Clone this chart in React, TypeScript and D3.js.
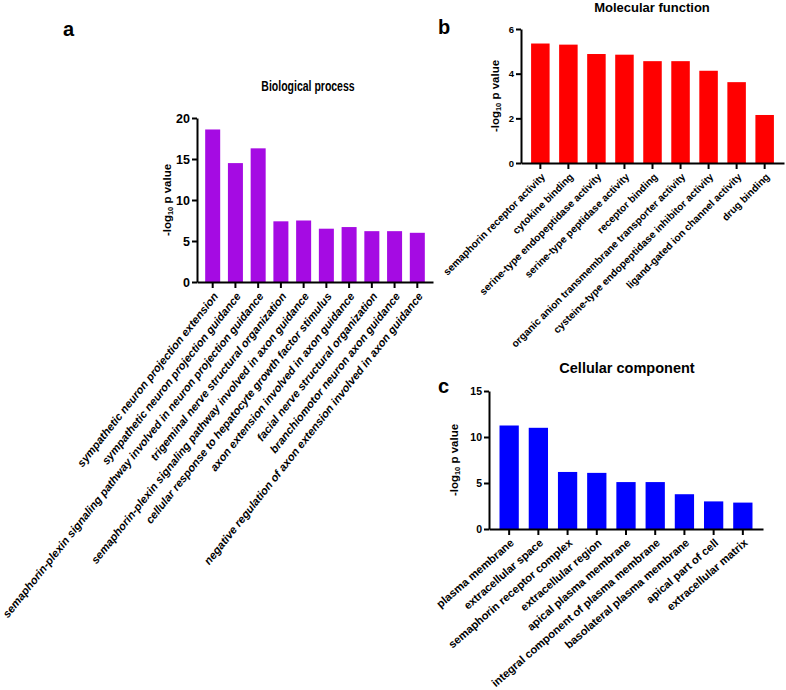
import { useEffect, useRef } from 'react';
import * as d3 from 'd3';

// GO enrichment, -log10 p values
const bpTerms = [
  'sympathetic neuron projection extension',
  'sympathetic neuron projection guidance',
  'semaphorin-plexin signaling pathway involved in neuron projection guidance',
  'trigeminal nerve structural organization',
  'semaphorin-plexin signaling pathway involved in axon guidance',
  'cellular response to hepatocyte growth factor stimulus',
  'axon extension involved in axon guidance',
  'facial nerve structural organization',
  'branchiomotor neuron axon guidance',
  'negative regulation of axon extension involved in axon guidance',
];
const bpValues = [18.6, 14.5, 16.3, 7.4, 7.5, 6.5, 6.7, 6.2, 6.2, 6.0];
const bpTicks = [0, 5, 10, 15, 20];

const mfTerms = [
  'semaphorin receptor activity',
  'cytokine binding',
  'serine-type endopeptidase activity',
  'serine-type peptidase activity',
  'receptor binding',
  'organic anion transmembrane transporter activity',
  'cysteine-type endopeptidase inhibitor activity',
  'ligand-gated ion channel activity',
  'drug binding',
];
const mfValues = [5.35, 5.3, 4.88, 4.85, 4.56, 4.56, 4.13, 3.62, 2.15];
const mfTicks = [0, 2, 4, 6];

const ccTerms = [
  'plasma membrane',
  'extracellular space',
  'semaphorin receptor complex',
  'extracellular region',
  'apical plasma membrane',
  'integral component of plasma membrane',
  'basolateral plasma membrane',
  'apical part of cell',
  'extracellular matrix',
];
const ccValues = [11.25, 11.0, 6.2, 6.1, 5.1, 5.1, 3.78, 3.0, 2.87];
const ccTicks = [0, 5, 10, 15];

const FONT = '"Liberation Sans", Arial, sans-serif';

interface PanelSpec {
  letter: string;
  letterX: number;
  letterY: number;
  title: string;
  titleX: number;
  titleY: number;
  titleSize: number;
  titleScaleX: number;
  terms: string[];
  values: number[];
  ticks: number[];
  color: string;
  left: number;
  right: number;
  top: number;
  bottom: number;
  angle: number;
  italic: boolean;
  labelSize: number;
  tickFont: number;
  yLabelSize: number;
  yLabelOffset: number;
}

const panels: PanelSpec[] = [
  {
    letter: 'a', letterX: 63, letterY: 36,
    title: 'Biological process', titleX: 308, titleY: 91, titleSize: 14, titleScaleX: 0.75,
    terms: bpTerms, values: bpValues, ticks: bpTicks, color: '#a50be3',
    left: 197, right: 433, top: 118, bottom: 282,
    angle: -51.5, italic: true, labelSize: 11.2, tickFont: 12.5,
    yLabelSize: 11.5, yLabelOffset: 26,
  },
  {
    letter: 'b', letterX: 438, letterY: 34,
    title: 'Molecular function', titleX: 652, titleY: 12, titleSize: 13, titleScaleX: 1,
    terms: mfTerms, values: mfValues, ticks: mfTicks, color: '#ff0000',
    left: 521, right: 784, top: 29, bottom: 163,
    angle: -45, italic: false, labelSize: 10.2, tickFont: 9.5,
    yLabelSize: 11.5, yLabelOffset: 22,
  },
  {
    letter: 'c', letterX: 438, letterY: 393,
    title: 'Cellular component', titleX: 627, titleY: 373, titleSize: 14.5, titleScaleX: 1,
    terms: ccTerms, values: ccValues, ticks: ccTicks, color: '#0000ff',
    left: 489, right: 763, top: 391, bottom: 529,
    angle: -41, italic: false, labelSize: 11.2, tickFont: 10.5,
    yLabelSize: 11.5, yLabelOffset: 31,
  },
];

function drawPanel(root: d3.Selection<SVGGElement, unknown, null, undefined>, p: PanelSpec) {
  const g = root.append('g');
  const rows = p.terms.map((term, i) => ({ term, value: p.values[i] }));

  const x = d3
    .scaleBand<string>()
    .domain(p.terms)
    .range([p.left, p.right])
    .paddingInner(0.34)
    .paddingOuter(0.36);

  const y = d3
    .scaleLinear()
    .domain([0, d3.max(p.ticks) || 0])
    .range([p.bottom, p.top]);

  // Bars
  g.selectAll('rect')
    .data(rows)
    .join('rect')
    .attr('x', (d) => x(d.term) || 0)
    .attr('y', (d) => y(d.value))
    .attr('width', x.bandwidth())
    .attr('height', (d) => p.bottom - y(d.value))
    .attr('fill', p.color);

  // Y axis
  const yAxis = g
    .append('g')
    .attr('transform', `translate(${p.left},0)`)
    .call(
      d3
        .axisLeft(y)
        .tickValues(p.ticks)
        .tickFormat(d3.format('d'))
        .tickSize(5)
        .tickSizeOuter(0)
        .tickPadding(2)
    );
  yAxis
    .selectAll('text')
    .attr('fill', '#000')
    .attr('font-family', FONT)
    .attr('font-weight', 'bold')
    .attr('font-size', p.tickFont);

  // X axis (labels drawn separately)
  const xAxis = g
    .append('g')
    .attr('transform', `translate(0,${p.bottom})`)
    .call(d3.axisBottom(x).tickSize(6).tickSizeOuter(0));
  xAxis.selectAll('text').remove();

  g.selectAll('.domain, .tick line').attr('stroke', '#000').attr('stroke-width', 2);

  g.append('g')
    .selectAll('text')
    .data(p.terms)
    .join('text')
    .attr(
      'transform',
      (d) => `translate(${(x(d) || 0) + x.bandwidth() / 2 + 3},${p.bottom + 12}) rotate(${p.angle})`
    )
    .attr('text-anchor', 'end')
    .attr('dy', '0.35em')
    .attr('font-family', FONT)
    .attr('font-weight', 'bold')
    .attr('font-style', p.italic ? 'italic' : 'normal')
    .attr('font-size', p.labelSize)
    .text((d) => d);

  // Y axis label with subscript
  const yl = g
    .append('text')
    .attr('transform', `translate(${p.left - p.yLabelOffset},${(p.top + p.bottom) / 2}) rotate(-90)`)
    .attr('text-anchor', 'middle')
    .attr('font-family', FONT)
    .attr('font-weight', 'bold')
    .attr('font-size', p.yLabelSize);
  yl.append('tspan').text('-log');
  yl.append('tspan').attr('font-size', p.yLabelSize * 0.65).attr('dy', '0.3em').text('10');
  yl.append('tspan').attr('dy', '-0.2em').text(' p value');

  // Title
  g.append('text')
    .attr('transform', `translate(${p.titleX},${p.titleY}) scale(${p.titleScaleX},1)`)
    .attr('text-anchor', 'middle')
    .attr('font-family', FONT)
    .attr('font-weight', 'bold')
    .attr('font-size', p.titleSize)
    .text(p.title);

  // Panel letter
  g.append('text')
    .attr('x', p.letterX)
    .attr('y', p.letterY)
    .attr('font-family', FONT)
    .attr('font-weight', 'bold')
    .attr('font-size', 20)
    .text(p.letter);
}

export default function App() {
  const svgRef = useRef<SVGSVGElement>(null);

  useEffect(() => {
    if (!svgRef.current) return;
    document.body.style.margin = '0';
    const svg = d3.select(svgRef.current);
    svg.selectAll('*').remove();
    const root = svg.append('g');
    panels.forEach((p) => drawPanel(root, p));
  }, []);

  return (
    <svg
      ref={svgRef}
      width={786}
      height={690}
      viewBox="0 0 786 690"
      style={{ display: 'block', background: '#fff' }}
    />
  );
}
